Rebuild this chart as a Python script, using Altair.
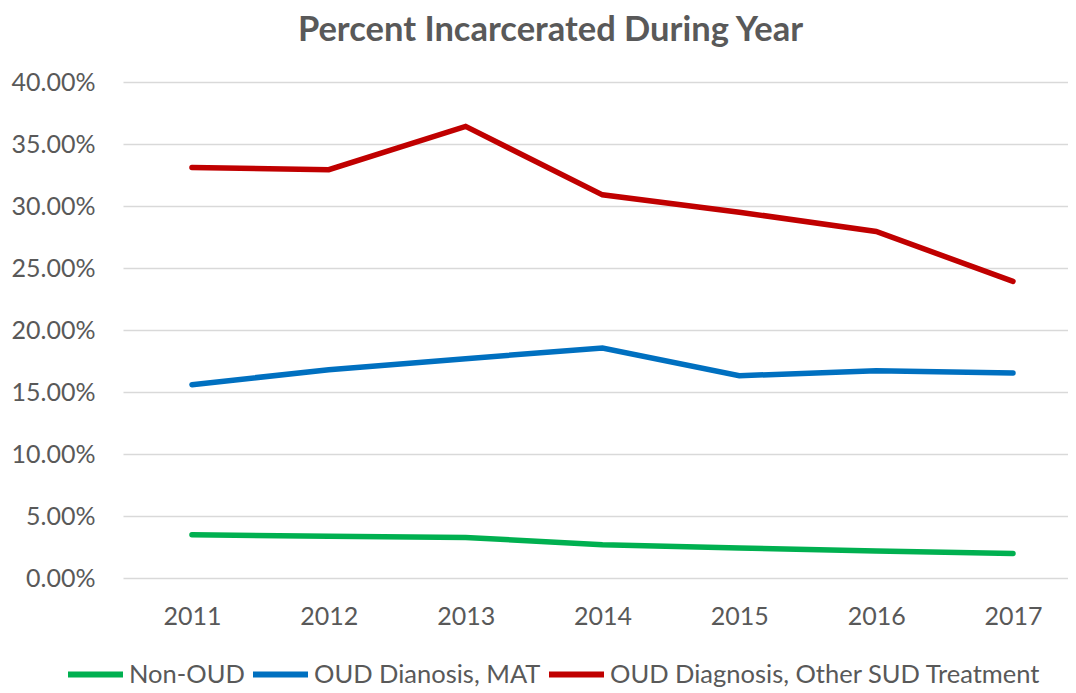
import altair as alt
import pandas as pd

years = [2011, 2012, 2013, 2014, 2015, 2016, 2017]
series_names = ["Non-OUD", "OUD Dianosis, MAT", "OUD Diagnosis, Other SUD Treatment"]
non_oud = [0.0349, 0.0336, 0.0327, 0.0268, 0.0242, 0.0218, 0.0198]
oud_mat = [0.1559, 0.1680, 0.1769, 0.1855, 0.1631, 0.1672, 0.1653]
oud_other = [0.3311, 0.3293, 0.3642, 0.3090, 0.2950, 0.2795, 0.2392]
colors = ["#00B050", "#0070C0", "#C00000"]

rows = []
for name, vals in zip(series_names, [non_oud, oud_mat, oud_other]):
    for y, v in zip(years, vals):
        rows.append({"Year": y, "Series": name, "Value": v})
df = pd.DataFrame(rows)

FONT = "Lato"
GREY = "#595959"

chart = alt.Chart(df).mark_line(strokeWidth=5.5, strokeCap="round", strokeJoin="miter").encode(
    x=alt.X("Year:Q",
            scale=alt.Scale(domain=[2010.496, 2017.402], nice=False, zero=False),
            axis=alt.Axis(title=None, labelAngle=0, ticks=False, domain=False, grid=False,
                          values=years, format="d", labelFlush=False,
                          labelFontSize=25, labelColor=GREY, labelFont=FONT, labelPadding=26)),
    y=alt.Y("Value:Q", scale=alt.Scale(domain=[0, 0.4], nice=False),
            axis=alt.Axis(title=None, format=".2%", values=[0, 0.05, 0.1, 0.15, 0.2, 0.25, 0.3, 0.35, 0.4],
                          ticks=False, domain=False, grid=True, gridColor="#D9D9D9", gridWidth=1.5,
                          labelFontSize=25, labelColor=GREY, labelFont=FONT, labelPadding=28)),
    color=alt.Color("Series:N", sort=series_names,
                    scale=alt.Scale(domain=series_names, range=colors),
                    legend=alt.Legend(title=None, orient="none", direction="horizontal",
                                      legendX=-58, legendY=562,
                                      symbolType="stroke", symbolSize=3025, symbolStrokeWidth=6,
                                      labelFontSize=25.5, labelColor=GREY, labelFont=FONT,
                                      labelLimit=600, labelOffset=3, columnPadding=-4)),
).properties(
    width=945,
    height=496,
    title=alt.Title("Percent Incarcerated During Year", fontSize=34.5, font=FONT, fontWeight="bold",
                    color=GREY, anchor="middle", offset=22, dx=-45),
    autosize=alt.AutoSizeParams(type="none"),
    padding={"left": 115, "top": 74, "right": 0, "bottom": 115},
).configure_view(stroke=None)

chart.save("out.html", embed_options={"renderer": "svg", "actions": False})
